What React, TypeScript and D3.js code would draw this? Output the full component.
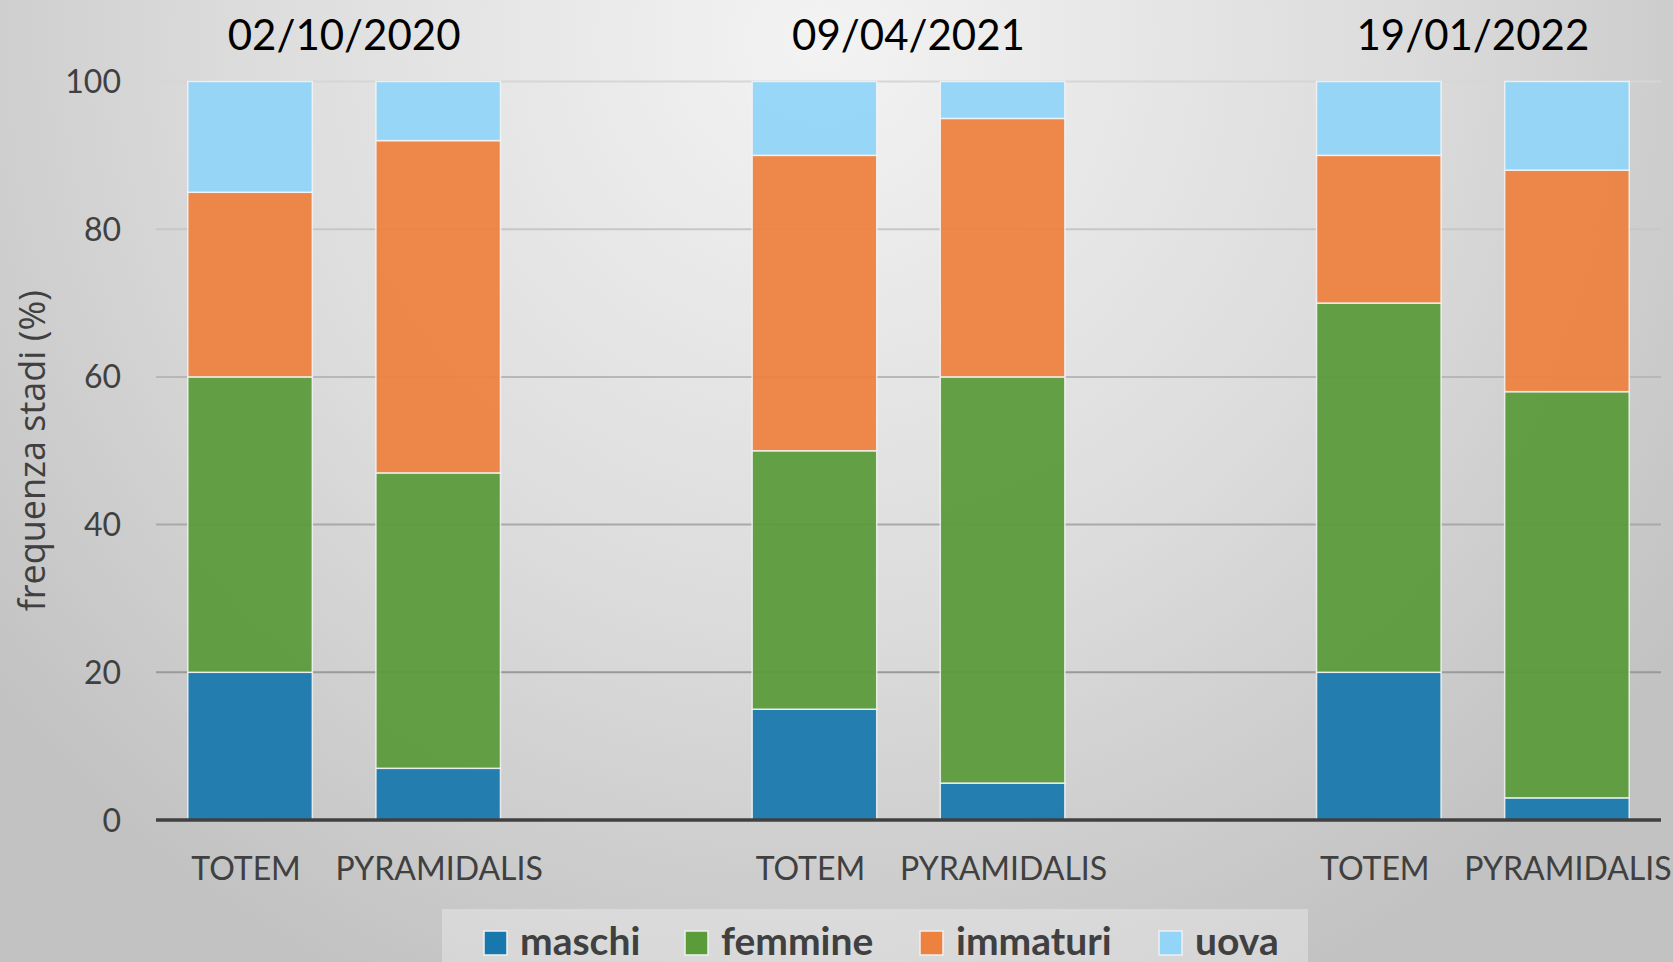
import React, { useEffect, useRef } from 'react';
import * as d3 from 'd3';

const dates = ['02/10/2020', '09/04/2021', '19/01/2022'];
const sites = ['TOTEM', 'PYRAMIDALIS'];
const stages = ['maschi', 'femmine', 'immaturi', 'uova'];

// one value per bar, order: TOTEM, PYRAMIDALIS for each date
const maschi = [20, 7, 15, 5, 20, 3];
const femmine = [40, 40, 35, 55, 50, 55];
const immaturi = [25, 45, 40, 35, 20, 30];
const uova = [15, 8, 10, 5, 10, 12];

const yTicks = [0, 20, 40, 60, 80, 100];

const colors = ['#1878ad', '#5a9b3a', '#ed8240', '#93d4f9'];

const W = 1673;
const H = 962;

const App: React.FC = () => {
  const ref = useRef<SVGSVGElement>(null);

  useEffect(() => {
    const svg = d3.select(ref.current);
    svg.selectAll('*').remove();

    const font = 'Lato, "Open Sans", sans-serif';
    const margin = { top: 81.5, right: 12, bottom: 142, left: 156 };

    const defs = svg.append('defs');
    const bg = defs.append('radialGradient')
      .attr('id', 'bg')
      .attr('gradientUnits', 'userSpaceOnUse')
      .attr('cx', 820).attr('cy', 40).attr('r', 1050);
    bg.append('stop').attr('offset', '0%').attr('stop-color', '#f3f3f3');
    bg.append('stop').attr('offset', '55%').attr('stop-color', '#dcdcdc');
    bg.append('stop').attr('offset', '100%').attr('stop-color', '#c2c2c2');

    const grid = defs.append('linearGradient')
      .attr('id', 'grid')
      .attr('gradientUnits', 'userSpaceOnUse')
      .attr('x1', 0).attr('x2', 0).attr('y1', margin.top).attr('y2', H - margin.bottom);
    grid.append('stop').attr('offset', '0%').attr('stop-color', '#d6d6d6');
    grid.append('stop').attr('offset', '100%').attr('stop-color', '#8a8a8a');

    svg.append('rect').attr('width', W).attr('height', H).attr('fill', 'url(#bg)');

    // bars laid out in slots: TOTEM, PYRAMIDALIS, gap, ...
    const keys: string[] = [];
    dates.forEach((d, i) => {
      sites.forEach(s => keys.push(`${i}|${s}`));
      if (i < dates.length - 1) keys.push(`${i}|gap`);
    });

    const x = d3.scaleBand()
      .domain(keys)
      .range([margin.left, W - margin.right])
      .paddingInner(0.338)
      .paddingOuter(0.169);

    const y = d3.scaleLinear()
      .domain([0, 100])
      .range([H - margin.bottom, margin.top]);

    const rows = keys.filter(k => !k.endsWith('gap')).map((k, i) => ({
      key: k,
      maschi: maschi[i],
      femmine: femmine[i],
      immaturi: immaturi[i],
      uova: uova[i],
    }));

    // gridlines
    svg.append('g')
      .selectAll('line')
      .data(yTicks.filter(t => t > 0))
      .join('line')
      .attr('x1', margin.left)
      .attr('x2', W - margin.right)
      .attr('y1', d => y(d))
      .attr('y2', d => y(d))
      .attr('stroke', 'url(#grid)')
      .attr('stroke-width', 2);

    const stack = d3.stack<any>().keys(stages)(rows);

    svg.append('g')
      .selectAll('g')
      .data(stack)
      .join('g')
      .attr('fill', (_d, i) => colors[i])
      .attr('fill-opacity', 0.94)
      .selectAll('rect')
      .data(d => d)
      .join('rect')
      .attr('x', d => x(d.data.key)!)
      .attr('width', x.bandwidth())
      .attr('y', d => y(d[1]))
      .attr('height', d => y(d[0]) - y(d[1]))
      .attr('stroke', '#f4f4f4')
      .attr('stroke-opacity', 0.85)
      .attr('stroke-width', 1.5);

    // baseline axis
    svg.append('line')
      .attr('x1', margin.left)
      .attr('x2', W - margin.right)
      .attr('y1', y(0))
      .attr('y2', y(0))
      .attr('stroke', '#404040')
      .attr('stroke-width', 3.5);

    // y tick labels
    svg.append('g')
      .selectAll('text')
      .data(yTicks)
      .join('text')
      .attr('x', 121)
      .attr('y', d => y(d))
      .attr('dy', '0.36em')
      .attr('text-anchor', 'end')
      .attr('font-family', font)
      .attr('font-size', 32)
      .attr('fill', '#404040')
      .text(d => d);

    svg.append('text')
      .attr('transform', `translate(45,${(y(0) + y(100)) / 2}) rotate(-90)`)
      .attr('text-anchor', 'middle')
      .attr('font-family', '"Open Sans", sans-serif')
      .attr('font-size', 36)
      .attr('fill', '#404040')
      .text('frequenza stadi (%)');

    // category labels
    svg.append('g')
      .selectAll('text')
      .data(rows)
      .join('text')
      .attr('x', d => x(d.key)! + x.bandwidth() / 2 + (d.key.endsWith(sites[0]) ? -4 : 1))
      .attr('y', 880)
      .attr('text-anchor', 'middle')
      .attr('font-family', font)
      .attr('font-size', 32)
      .attr('fill', '#404040')
      .text(d => d.key.split('|')[1]);

    // date titles
    svg.append('g')
      .selectAll('text')
      .data(dates)
      .join('text')
      .attr('x', (_d, i) => (x(`${i}|${sites[0]}`)! + x(`${i}|${sites[1]}`)! + x.bandwidth()) / 2)
      .attr('y', 50)
      .attr('text-anchor', 'middle')
      .attr('font-family', font)
      .attr('font-size', 42)
      .attr('fill', '#000')
      .text(d => d);

    // legend
    const legendX = [484, 685, 920, 1159];
    svg.append('rect')
      .attr('x', 442).attr('y', 909)
      .attr('width', 866).attr('height', 60)
      .attr('fill', '#ffffff')
      .attr('fill-opacity', 0.3);

    const items = svg.append('g')
      .selectAll('g')
      .data(stages)
      .join('g')
      .attr('transform', (_d, i) => `translate(${legendX[i]},0)`);

    items.append('rect')
      .attr('x', 0).attr('y', 931)
      .attr('width', 23).attr('height', 24)
      .attr('fill', (_d, i) => colors[i])
      .attr('stroke', '#f0f0f0')
      .attr('stroke-width', 1.5);

    items.append('text')
      .attr('x', 36)
      .attr('y', 955)
      .attr('font-family', font)
      .attr('font-weight', 'bold')
      .attr('font-size', 39)
      .attr('fill', '#404040')
      .text(d => d);
  }, []);

  return (
    <svg
      ref={ref}
      width={W}
      height={H}
      style={{ position: 'absolute', left: 0, top: 0, display: 'block' }}
    />
  );
};

export default App;
